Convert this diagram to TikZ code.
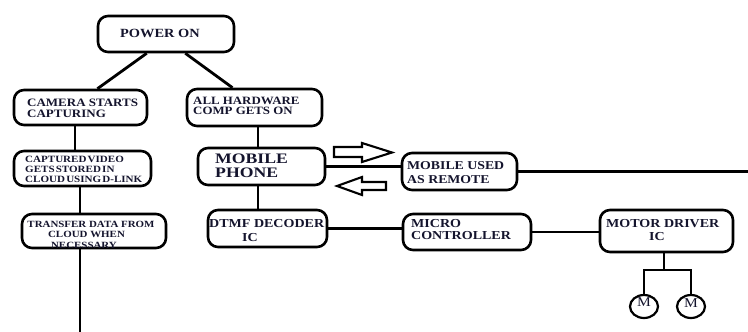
\documentclass[tikz,border=0pt]{standalone}
\usepackage{fontspec}
\newfontfamily\diagfont[FakeStretch=1.15]{Liberation Serif}
\newfontfamily\widefont[FakeStretch=1.22]{Liberation Serif}
\usetikzlibrary{shapes.geometric}
\definecolor{ink}{RGB}{20,20,45}
\newcommand{\closewords}{\spaceskip=1.2pt\relax}

\tikzset{
  blk/.style={draw=black, line width=2.6pt, rounded corners=10pt, inner sep=0pt},
  wire/.style={draw=black, line width=2.8pt},
  hwire/.style={draw=black, line width=2.1pt},
  txt/.style={anchor=base west, inner sep=0pt, text=ink,
    font=\diagfont\bfseries\fontsize{#1}{#1}\selectfont},
  ctxt/.style={txt=#1, anchor=base},
  wtxt/.style={anchor=base west, inner sep=0pt, text=ink,
    font=\widefont\bfseries\fontsize{#1}{#1}\selectfont},
  hollow/.style={draw=black, line width=2.1pt, fill=white, line join=miter},
  motor/.style={draw=black, ellipse, line width=2.2pt, minimum width=28pt,
    minimum height=23pt, inner sep=0pt},
  mtxt/.style={anchor=base, inner sep=0pt, text=ink,
    font=\diagfont\fontsize{13.5}{13.5}\selectfont},
}

\begin{document}
\begin{tikzpicture}[x=1pt, y=-1pt]
\useasboundingbox (0,0) rectangle (748,332);

% boxes
\node[blk, minimum width=136pt, minimum height=36pt] (power)    at (166,34)     {};
\node[blk, minimum width=133pt, minimum height=35pt] (camera)   at (80.5,107.5) {};
\node[blk, minimum width=135pt, minimum height=37pt] (hardware) at (254.5,107.5){};
\node[blk, minimum width=137pt, minimum height=35pt] (stored)   at (82.5,168.5) {};
\node[blk, minimum width=144pt, minimum height=34pt] (transfer) at (94,231)     {};
\node[blk, minimum width=127pt, minimum height=37pt] (mobile)   at (261.5,166.5){};
\node[blk, minimum width=115pt, minimum height=37pt] (remote)   at (459.5,171.5){};
\node[blk, minimum width=119pt, minimum height=37pt] (dtmf)     at (267.5,228.5){};
\node[blk, minimum width=128pt, minimum height=36pt] (micro)    at (467,232)    {};
\node[blk, minimum width=133pt, minimum height=42pt] (driver)   at (666.5,231)  {};

% box texts
\node[txt=12.5] (tpow) at (120,37.3) {POWER ON};
\node[txt=11.3] (tcam1) at (27,106.7) {CAMERA STARTS};
\node[txt=11.3] (tcam2) at (27,117.7) {CAPTURING};
\node[txt=11.2] (thw1) at (193,104.3) {ALL HARDWARE};
\node[txt=11.2] (thw2) at (193,114.8) {COMP GETS ON};
\node[txt=9.6] (tst1) at (25,162) {\closewords CAPTURED VIDEO};
\node[txt=9.6] (tst2) at (25,172.3) {\closewords GETS STORED IN};
\node[txt=9.6] (tst3) at (25,182.7) {\closewords CLOUD USING D-LINK};
\node[ctxt=9.5] (ttr1) at (91,227.7) {TRANSFER DATA FROM};
\node[ctxt=9.5] (ttr2) at (86.5,237.7) {CLOUD WHEN};
\node[ctxt=9.5] (ttr3) at (84,248) {NECESSARY};
\node[wtxt=14.5] (tmob1) at (215,163) {MOBILE};
\node[wtxt=14.5] (tmob2) at (215,177.2) {PHONE};
\node[txt=12] (trem1) at (407,169.3) {MOBILE USED};
\node[txt=12] (trem2) at (407,183.3) {AS REMOTE};
\node[txt=12.2] (tdt1) at (209,227.7) {DTMF DECODER};
\node[txt=12.2] (tdt2) at (242,241) {IC};
\node[txt=12.2] (tmc1) at (411,227) {MICRO};
\node[txt=12.2] (tmc2) at (411,239.3) {CONTROLLER};
\node[txt=12.2] (tdr1) at (606,227.7) {MOTOR DRIVER};
\node[txt=12.2] (tdr2) at (649,240) {IC};

% tree connectors
\draw[wire] (power.-135) -- (camera.48);
\draw[wire] (power.-45) -- (hardware.138);
\draw[wire] ([xshift=-5.5pt]camera.south) -- ([xshift=-5.5pt]camera.south |- stored.north);
\draw[wire] ([xshift=-2.5pt]stored.south) -- ([xshift=-2.5pt]stored.south |- transfer.north);
\coordinate (down) at (80,332);
\draw[wire] (transfer.south -| down) -- (down);
\draw[wire] ([xshift=3.5pt]hardware.south) -- ([xshift=3.5pt]hardware.south |- mobile.north);
\draw[wire] ([xshift=-3.5pt]mobile.south) -- ([xshift=-3.5pt]mobile.south |- dtmf.north);

% horizontal links
\draw[hwire] (mobile.east) -- (mobile.east -| remote.west);
\coordinate (edge) at (748,172);
\draw[hwire] (remote.east) -- (remote.east -| edge);
\draw[hwire] (dtmf.east) -- (dtmf.east -| micro.west);
\draw[hwire] (micro.east) -- (micro.east -| driver.west);

% hollow block arrows between phone and remote
\draw[hollow] (334,147) -- (362,147) -- (362,143) -- (392,152.5) -- (362,162)
  -- (362,157) -- (334,157) -- cycle;
\draw[hollow] (386,182) -- (362,182) -- (362,177) -- (337,186) -- (362,195)
  -- (362,190) -- (386,190) -- cycle;

% motors
\coordinate (split) at (664,270);
\node[motor] (m1) at (644,306.5) {};
\node[motor] (m2) at (691,306.5) {};
\node[mtxt] (m1t) at (644,306) {M};
\node[mtxt] (m2t) at (691,307) {M};
\draw[wire] (driver.south -| split) -- (split);
\draw[wire] (m1.north) -- (m1.north |- split) -- (m2.north |- split) -- (m2.north);
\end{tikzpicture}
\end{document}
